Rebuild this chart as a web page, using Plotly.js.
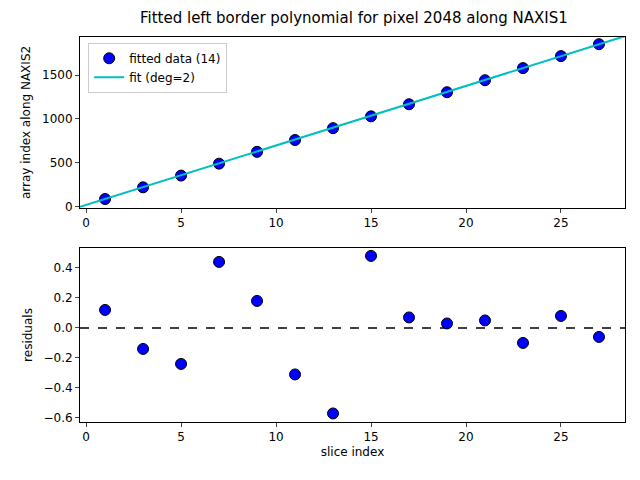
<!DOCTYPE html>
<html>
<head>
<script src="https://cdn.plot.ly/plotly-3.0.1.min.js"></script>
<style>body{margin:0}#chart{width:640px;height:480px}</style>
</head>
<body>
<div id="chart"></div>
<script>
// data
const sliceIdx = [1, 3, 5, 7, 9, 11, 13, 15, 17, 19, 21, 23, 25, 27];
const arrayIdx = [87, 220, 354, 490, 625, 760, 895, 1030, 1168, 1305, 1442, 1580, 1717, 1853];
const fitX = [-0.32, 7, 14, 21, 28.37];
const fitY = [-3, 494, 970, 1445, 1945];
const residuals = [0.12, -0.14, -0.24, 0.44, 0.18, -0.31, -0.57, 0.48, 0.07, 0.03, 0.05, -0.10, 0.08, -0.06];

const marker = { color: '#0000ff', size: 11, line: { color: '#000', width: 1 } };

const traces = [
    { x: sliceIdx, y: arrayIdx, type: 'scatter', mode: 'markers', marker: marker,
      name: 'fitted data (14)', xaxis: 'x', yaxis: 'y' },
    { x: fitX, y: fitY, type: 'scatter', mode: 'lines', line: { color: '#00bfbf', width: 2 },
      name: 'fit (deg=2)', xaxis: 'x', yaxis: 'y' },
    { x: [-0.32, 28.37], y: [0, 0], type: 'scatter', mode: 'lines',
      line: { color: '#000', width: 1.5, dash: 'dash' }, showlegend: false, xaxis: 'x2', yaxis: 'y2' },
    { x: sliceIdx, y: residuals, type: 'scatter', mode: 'markers', marker: marker,
      showlegend: false, xaxis: 'x2', yaxis: 'y2' },
];

const ax = {
    showline: true, mirror: true, linecolor: '#000', linewidth: 1, ticks: 'outside',
    ticklen: 4, showgrid: false, zeroline: false, tickfont: { size: 12, color: '#000' },
};

const layout = {
    width: 640, height: 480,
    paper_bgcolor: '#fff', plot_bgcolor: '#fff',
    font: { family: 'DejaVu Sans', color: '#000', size: 12 },
    margin: { l: 80, r: 15, t: 37, b: 58 },
    title: { text: 'Fitted left border polynomial for pixel 2048 along NAXIS1', font: { size: 15 }, x: 0.553, y: 0.975 },
    xaxis: { ...ax, range: [-0.32, 28.37], tickvals: [0, 5, 10, 15, 20, 25], anchor: 'y' },
    yaxis: { ...ax, domain: [0.556, 1], range: [-15, 1935], tickvals: [0, 500, 1000, 1500],
             title: { text: 'array index along NAXIS2', font: { size: 12 }, standoff: 8 }, anchor: 'x' },
    xaxis2: { ...ax, range: [-0.32, 28.37], tickvals: [0, 5, 10, 15, 20, 25], anchor: 'y2',
              title: { text: 'slice index', font: { size: 12 }, standoff: 4 } },
    yaxis2: { ...ax, domain: [0, 0.452], range: [-0.627, 0.533],
              tickvals: [-0.6, -0.4, -0.2, 0, 0.2, 0.4], tickformat: '.1f',
              title: { text: 'residuals', font: { size: 12 }, standoff: 8 }, anchor: 'x2' },
    showlegend: true,
    legend: { x: 0.015, y: 0.985, xanchor: 'left', yanchor: 'top', bgcolor: '#fff',
              bordercolor: '#ccc', borderwidth: 1, font: { size: 12 } },
};

Plotly.newPlot('chart', traces, layout, { displayModeBar: false });
</script>
</body>
</html>
